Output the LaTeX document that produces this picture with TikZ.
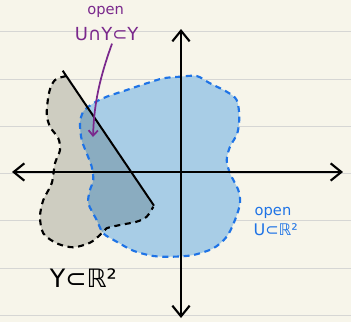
\documentclass[tikz,border=0pt]{standalone}
\usepackage{fontspec}
\setmainfont{DejaVu Sans}
\usetikzlibrary{arrows.meta,positioning}

\definecolor{paper}{RGB}{247,245,234}
\definecolor{ruleline}{RGB}{214,214,212}
\definecolor{ygray}{RGB}{206,205,193}
\definecolor{ublue}{RGB}{168,205,230}
\definecolor{both}{RGB}{138,172,192}
\definecolor{udash}{RGB}{30,115,230}
\definecolor{penpurple}{RGB}{122,40,140}

\begin{document}
\begin{tikzpicture}[
    x=0.75pt, y=-0.75pt,
    axis/.style={line width=1.6pt, {Straight Barb[length=8pt,width=13pt]}-{Straight Barb[length=8pt,width=13pt]}},
    border/.style={line width=1.6pt, dash pattern=on 4.5pt off 3.5pt},
    label/.style={inner sep=0pt, font=\fontsize{11}{12}\selectfont},
    arrow/.style={line width=1.3pt, penpurple, -{Straight Barb[length=4pt,width=7pt]}}
]
    % paper
    \fill[paper] (0,0) rectangle (351,322);
    \useasboundingbox (0,0) rectangle (351,322);
    \foreach \r in {31.7,79.2,126.6,173.3,220.8,268.2,315.7}
        \draw[ruleline, line width=0.8pt] (0,\r) -- (351,\r);

    % regions
    \def\Ypath{plot[smooth] coordinates {(66.3,76) (55,80) (49.3,91.7) (46.7,113.3) (50,126.7) (58.3,138.3) (60,150) (55,163.3) (51.7,183.3) (43.3,200) (40,216.7) (43.3,233.3) (56.7,243.3) (73.3,247.3) (90,242.7) (100,235) (106.7,228.3) (120,225) (136.7,221.7) (146.7,216.7) (153.3,206.7)}}
    \def\Upath{plot[smooth cycle] coordinates {(180,76.7) (196.7,76) (210,83.3) (226.7,91.7) (236.7,100) (239.3,116.7) (237.3,133.3) (230,146.7) (226.7,160) (230,173.3) (238.3,190) (240,203.3) (235,220) (226.7,236.7) (213.3,248.3) (193.3,255) (173.3,256.7) (153.3,256) (133.3,250.7) (116.7,241.7) (103.3,233.3) (96.7,220) (88.3,203.3) (90,190) (93.3,180) (91.7,166.7) (86.7,153.3) (81.7,140) (80,123.3) (83.3,111.7) (93.3,103.3) (106.7,96.7) (126.7,90) (146.7,83.3) (163.3,78.3)}}
    \fill[ygray] \Ypath -- cycle;
    \fill[ublue] \Upath;
    \begin{scope}
        \clip \Upath;
        \fill[both] \Ypath -- cycle;
    \end{scope}
    \draw[border, udash] \Upath;
    \draw[border, black] \Ypath;

    % axes
    \coordinate (west) at (12,172);
    \coordinate (east) at (343,172);
    \coordinate (north) at (181,29);
    \coordinate (south) at (181,318);
    \draw[axis] (west) -- (east);
    \draw[axis] (south) -- (north);

    % segment
    \coordinate (segtop) at (62.7,70.7);
    \coordinate (segbot) at (154,205.7);
    \draw[line width=1.5pt] (segtop) -- (segbot);

    % labels
    \node[label, penpurple] (openint) at (105.7,11.7) {open};
    \node[label, penpurple, font=\fontsize{13.5}{14}\selectfont] (inter) at (106.7,34) {U∩Y⊂Y};
    \node[label, udash] (openu) at (273,213) {open};
    \node[label, udash, font=\fontsize{12}{13}\selectfont] (uset) at (275.7,230) {U⊂ℝ²};
    \node[label, font=\fontsize{19}{20}\selectfont] (yset) at (83.3,278.3) {Y⊂ℝ²};

    \coordinate (tip) at (93,137);
    \draw[arrow] ([xshift=4pt,yshift=-2pt]inter.south) .. controls (97,85) and (94,110) .. (tip);
\end{tikzpicture}
\end{document}
